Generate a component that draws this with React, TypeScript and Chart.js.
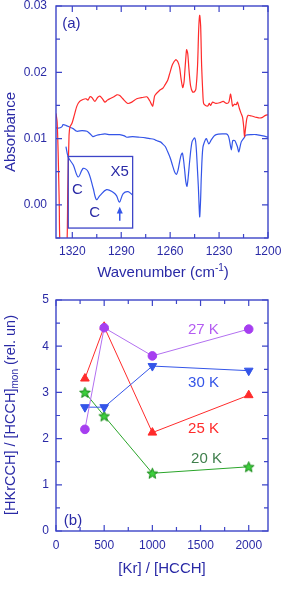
import React, { useEffect, useRef } from 'react';
import { Chart, registerables } from 'chart.js';

Chart.register(...registerables);

// ---------- Panel (a): IR spectra ----------
const RED_WN = [1330, 1329.3, 1328.7, 1328.0, 1327.5, 1325, 1323.3, 1322.8, 1322.0, 1321.4, 1320.2, 1318.8, 1317.2, 1315.5, 1313.5, 1311.5, 1310.4, 1309.2, 1308, 1306.1, 1304.5, 1303.1, 1301.5, 1300, 1298.5, 1297, 1294.5, 1292.7, 1290.9, 1289, 1286, 1283.5, 1280.5, 1277, 1274.3, 1272.5, 1271.5, 1270.7, 1270, 1269.4, 1266.4, 1264.5, 1263.4, 1261.5, 1260.3, 1258.5, 1256.6, 1255.3, 1254.2, 1253.3, 1252.3, 1251.5, 1251.1, 1250.3, 1249.9, 1249.2, 1248.5, 1247.5, 1246.2, 1245, 1244.2, 1243.2, 1242.5, 1241.9, 1241.3, 1240.7, 1240, 1239.5, 1238.3, 1237, 1236, 1235.2, 1234, 1232, 1229.7, 1227.5, 1225.4, 1224, 1223, 1222.4, 1221.7, 1220.5, 1219.5, 1218.7, 1217.5, 1216.5, 1215.6, 1214.9, 1214.4, 1213.8, 1213, 1212.2, 1210, 1207.1, 1205, 1203.4, 1201.5, 1200];
const RED_ABS = [0.0138, 0.0125, 0.008, 0.0, -0.006, -0.009, -0.006, 0.002, 0.0105, 0.0118, 0.0123, 0.0135, 0.0149, 0.0156, 0.0159, 0.016, 0.0158, 0.0163, 0.0162, 0.0156, 0.0162, 0.0164, 0.016, 0.0155, 0.0158, 0.016, 0.0163, 0.0166, 0.0165, 0.016, 0.0153, 0.0155, 0.016, 0.0162, 0.0163, 0.0157, 0.0152, 0.0149, 0.0158, 0.0165, 0.0173, 0.0176, 0.018, 0.0188, 0.0198, 0.0212, 0.0219, 0.0216, 0.0207, 0.019, 0.0177, 0.0185, 0.0198, 0.0225, 0.0234, 0.0228, 0.0205, 0.018, 0.017, 0.0171, 0.0175, 0.021, 0.0265, 0.0286, 0.027, 0.021, 0.017, 0.0153, 0.015, 0.0149, 0.0153, 0.015, 0.0155, 0.0153, 0.0154, 0.0156, 0.0153, 0.0155, 0.0167, 0.016, 0.0149, 0.0152, 0.0151, 0.0155, 0.0145, 0.0138, 0.0132, 0.0118, 0.0103, 0.0115, 0.013, 0.0135, 0.0134, 0.0132, 0.0131, 0.0132, 0.0135, 0.0136];

const BLUE_WN = [1330, 1328, 1326.3, 1325.7, 1324, 1321.4, 1319.5, 1317.2, 1314, 1311, 1309, 1307.4, 1305, 1303.1, 1300, 1297, 1294, 1290.9, 1288, 1286.6, 1283, 1278.6, 1275, 1272.5, 1270, 1268.4, 1266, 1264.6, 1263, 1261.5, 1260, 1258.6, 1257.3, 1256.2, 1255.2, 1254.2, 1253.3, 1252.5, 1251.8, 1251.1, 1250.4, 1249.7, 1249, 1248, 1246.6, 1245, 1244.4, 1243.9, 1243.3, 1242.7, 1241.9, 1241.3, 1240.9, 1239.9, 1237.9, 1236.3, 1234.8, 1233, 1231.8, 1228, 1225.6, 1224.3, 1223.6, 1222.5, 1221.6, 1220.5, 1219.9, 1218.8, 1217.9, 1216.4, 1214.4, 1213.8, 1210, 1207.2, 1203, 1200];
const BLUE_ABS = [0.0116, 0.0116, 0.0118, 0.0121, 0.012, 0.0117, 0.0115, 0.0111, 0.0112, 0.0111, 0.0107, 0.0103, 0.0105, 0.0106, 0.0107, 0.0106, 0.0106, 0.0106, 0.0104, 0.0102, 0.0103, 0.0102, 0.0101, 0.01, 0.0099, 0.0097, 0.0095, 0.0092, 0.0088, 0.008, 0.0071, 0.006, 0.005, 0.0046, 0.0052, 0.0065, 0.0075, 0.0078, 0.0068, 0.0052, 0.0035, 0.0028, 0.004, 0.0067, 0.0095, 0.0101, 0.0096, 0.0082, 0.0055, 0.0027, -0.0018, 0.001, 0.0042, 0.0087, 0.01, 0.0092, 0.0098, 0.0104, 0.0106, 0.0107, 0.0107, 0.0104, 0.0097, 0.0083, 0.0097, 0.0097, 0.0095, 0.0088, 0.008, 0.0095, 0.0102, 0.0105, 0.0106, 0.0106, 0.0104, 0.0102];

// magnified (x5) trace shown in the inset
const INSET_WN = [1323.9, 1322.5, 1319.4, 1316.4, 1313.3, 1310.3, 1307.2, 1305.2, 1303.1, 1299, 1295, 1292.9, 1291.1, 1288.8, 1285.8, 1283.1];
const INSET_ABS = [0.0088, 0.0072, 0.006, 0.0042, 0.0055, 0.005, 0.0025, 0.0008, 0.0014, 0.0023, 0.0019, 0.0014, 0.0004, 0.0017, 0.002, 0.0015];

const A_X_TICKS = [1320, 1290, 1260, 1230, 1200];
const A_X_MINOR = [1305, 1275, 1245, 1215];
const A_Y_TICKS = [0, 0.01, 0.02, 0.03];
const A_Y_MINOR = [-0.005, 0.005, 0.015, 0.025];

// ---------- Panel (b): HKrCCH yield ----------
const KR_RATIO = [300, 500, 1000, 2000];
const Y_27K = [2.2, 4.4, 3.79, 4.37];
const Y_30K = [2.68, 2.68, 3.57, 3.47];
const Y_25K = [3.3, 4.42, 2.13, 2.94];
const Y_20K = [3.0, 2.49, 1.25, 1.39];

const B_X_TICKS = [0, 500, 1000, 1500, 2000];
const B_X_MINOR = [250, 750, 1250, 1750];
const B_Y_TICKS = [0, 1, 2, 3, 4, 5];
const B_Y_MINOR = [0.5, 1.5, 2.5, 3.5, 4.5];

const FONT = '"Liberation Sans", Arial, sans-serif';
const TEXT = '#2a2aa6';
const AXIS = '#3d45c8';
const RED = '#ff2b2b';
const BLUE = '#3455e8';
const PURPLE = '#a63ef0';
const PURPLE_LINE = '#b270f0';
const GREEN = '#2aa52a';

type Part = { t: string; size: number; dy?: number };

function drawRich(ctx: CanvasRenderingContext2D, parts: Part[], cx: number, cy: number, rot: number, color = TEXT) {
  ctx.save();
  ctx.translate(cx, cy);
  ctx.rotate(rot);
  let total = 0;
  const widths = parts.map((p) => {
    ctx.font = `${p.size}px ${FONT}`;
    const w = ctx.measureText(p.t).width;
    total += w;
    return w;
  });
  let x = -total / 2;
  ctx.textBaseline = 'alphabetic';
  ctx.textAlign = 'left';
  ctx.fillStyle = color;
  const base = parts[0].size * 0.36;
  parts.forEach((p, i) => {
    ctx.font = `${p.size}px ${FONT}`;
    ctx.fillText(p.t, x, base + (p.dy || 0));
    x += widths[i];
  });
  ctx.restore();
}

function drawFrame(chart: any, xMaj: number[], xMin: number[], yMaj: number[], yMin: number[]) {
  const { ctx, chartArea, scales } = chart;
  const { left, right, top, bottom } = chartArea;
  ctx.save();
  ctx.strokeStyle = AXIS;
  ctx.lineWidth = 1.4;
  ctx.strokeRect(left, top, right - left, bottom - top);
  ctx.lineWidth = 1.2;
  const major = 6;
  const minor = 4;
  ctx.beginPath();
  const xt = (vals: number[], len: number) => {
    vals.forEach((v) => {
      const p = scales.x.getPixelForValue(v);
      ctx.moveTo(p, bottom);
      ctx.lineTo(p, bottom - len);
      ctx.moveTo(p, top);
      ctx.lineTo(p, top + len);
    });
  };
  const yt = (vals: number[], len: number) => {
    vals.forEach((v) => {
      const p = scales.y.getPixelForValue(v);
      ctx.moveTo(left, p);
      ctx.lineTo(left + len, p);
      ctx.moveTo(right, p);
      ctx.lineTo(right - len, p);
    });
  };
  xt(xMaj, major);
  xt(xMin, minor);
  yt(yMaj, major);
  yt(yMin, minor);
  ctx.stroke();
  ctx.restore();
}

function makeStar(): HTMLCanvasElement {
  const c = document.createElement('canvas');
  const s = 13;
  c.width = s;
  c.height = s;
  const g = c.getContext('2d')!;
  const cx = s / 2;
  const cy = s / 2 + 0.5;
  const R = 5.6;
  const r = 2.4;
  g.beginPath();
  for (let i = 0; i < 10; i++) {
    const rad = i % 2 === 0 ? R : r;
    const a = -Math.PI / 2 + (i * Math.PI) / 5;
    const px = cx + rad * Math.cos(a);
    const py = cy + rad * Math.sin(a);
    if (i === 0) g.moveTo(px, py);
    else g.lineTo(px, py);
  }
  g.closePath();
  g.fillStyle = '#3ccf3c';
  g.fill();
  g.strokeStyle = '#188a18';
  g.lineWidth = 1;
  g.stroke();
  return c;
}

const tickFont = { family: FONT, size: 12 };

export default function App() {
  const refA = useRef<HTMLCanvasElement>(null);
  const refB = useRef<HTMLCanvasElement>(null);

  useEffect(() => {
    document.body.style.margin = '0';
    const pts = (xs: number[], ys: number[]) => xs.map((x, i) => ({ x, y: ys[i] }));

    const chartA = new Chart(refA.current!, {
      type: 'line',
      data: {
        datasets: [
          { label: 'inset x5', data: pts(INSET_WN, INSET_ABS), borderColor: BLUE, borderWidth: 1.2, pointRadius: 0, tension: 0.35 },
          { label: 'red', data: pts(RED_WN, RED_ABS), borderColor: RED, borderWidth: 1.2, pointRadius: 0, tension: 0.25 },
          { label: 'blue', data: pts(BLUE_WN, BLUE_ABS), borderColor: BLUE, borderWidth: 1.2, pointRadius: 0, tension: 0.25 },
        ],
      },
      options: {
        animation: false,
        responsive: false,
        devicePixelRatio: 1,
        layout: { padding: { left: 0, right: 15, top: 6, bottom: 0 } },
        plugins: { legend: { display: false }, tooltip: { enabled: false } },
        scales: {
          x: {
            type: 'linear',
            reverse: true,
            min: 1200,
            max: 1330,
            grid: { display: false, drawTicks: false },
            border: { display: false },
            ticks: { font: tickFont, color: TEXT, padding: 6, maxRotation: 0, autoSkip: false, callback: (v: any) => String(v) },
            afterBuildTicks: (s: any) => { s.ticks = A_X_TICKS.map((v) => ({ value: v })); },
            afterFit: (s: any) => { s.height = 47; s.paddingLeft = 0; s.paddingRight = 0; },
          },
          y: {
            type: 'linear',
            min: -0.005,
            max: 0.03,
            grid: { display: false, drawTicks: false },
            border: { display: false },
            ticks: { font: tickFont, color: TEXT, padding: 9, autoSkip: false, callback: (v: any) => Number(v).toFixed(2) },
            afterBuildTicks: (s: any) => { s.ticks = A_Y_TICKS.map((v) => ({ value: v })); },
            afterFit: (s: any) => { s.width = 56; s.paddingTop = 0; s.paddingBottom = 0; },
          },
        },
      },
      plugins: [
        {
          id: 'frameA',
          afterDatasetsDraw(chart: any) {
            drawFrame(chart, A_X_TICKS, A_X_MINOR, A_Y_TICKS, A_Y_MINOR);
            const { ctx, scales } = chart;
            const X = (v: number) => scales.x.getPixelForValue(v);
            const Y = (v: number) => scales.y.getPixelForValue(v);
            // inset box
            ctx.save();
            ctx.strokeStyle = AXIS;
            ctx.lineWidth = 1.3;
            const bx = X(1322.5), by = Y(0.0073), bx2 = X(1283), by2 = Y(-0.0035);
            ctx.strokeRect(bx, by, bx2 - bx, by2 - by);
            // arrow
            const ax = X(1290.9);
            ctx.strokeStyle = BLUE;
            ctx.fillStyle = BLUE;
            ctx.lineWidth = 1.5;
            ctx.beginPath();
            ctx.moveTo(ax, Y(-0.0024));
            ctx.lineTo(ax, Y(-0.0009));
            ctx.stroke();
            ctx.beginPath();
            ctx.moveTo(ax, Y(-0.0003));
            ctx.lineTo(ax - 3, Y(-0.0013));
            ctx.lineTo(ax + 3, Y(-0.0013));
            ctx.closePath();
            ctx.fill();
            ctx.restore();
            drawRich(ctx, [{ t: 'X5', size: 15 }], X(1290.9), Y(0.0051), 0);
            drawRich(ctx, [{ t: 'C', size: 15 }], X(1316.9), Y(0.0024), 0);
            drawRich(ctx, [{ t: 'C', size: 15 }], X(1306.3), Y(-0.001), 0);
            drawRich(ctx, [{ t: '(a)', size: 15 }], X(1320.6), Y(0.0275), 0);
            // axis titles
            drawRich(ctx, [{ t: 'Absorbance', size: 15 }], 9.5, 132, -Math.PI / 2);
            drawRich(ctx, [{ t: 'Wavenumber (cm', size: 15 }, { t: '-1', size: 10, dy: -6 }, { t: ')', size: 15 }], 163, 272, 0);
          },
        },
      ],
    } as any);

    const star = makeStar();
    const lineDs = (label: string, ys: number[], color: string, lineColor: string, style: any, radius: number, rotation = 0, order = 0) => ({
      label,
      data: pts(KR_RATIO, ys),
      borderColor: lineColor,
      backgroundColor: color,
      pointBorderColor: color,
      borderWidth: 1,
      pointStyle: style,
      pointRadius: radius,
      pointRotation: rotation,
      pointBorderWidth: 1,
      order,
      tension: 0,
    });

    const chartB = new Chart(refB.current!, {
      type: 'line',
      data: {
        datasets: [
          lineDs('27 K', Y_27K, PURPLE, PURPLE_LINE, 'circle', 4.3, 0, 0),
          lineDs('30 K', Y_30K, BLUE, BLUE, 'triangle', 5, 180, 1),
          lineDs('25 K', Y_25K, RED, RED, 'triangle', 5, 0, 2),
          lineDs('20 K', Y_20K, GREEN, GREEN, star, 5, 0, 3),
        ],
      },
      options: {
        animation: false,
        responsive: false,
        devicePixelRatio: 1,
        layout: { padding: { left: 0, right: 15, top: 15, bottom: 0 } },
        plugins: { legend: { display: false }, tooltip: { enabled: false } },
        scales: {
          x: {
            type: 'linear',
            min: 0,
            max: 2200,
            grid: { display: false, drawTicks: false },
            border: { display: false },
            ticks: { font: tickFont, color: TEXT, padding: 7, maxRotation: 0, autoSkip: false, callback: (v: any) => String(v) },
            afterBuildTicks: (s: any) => { s.ticks = B_X_TICKS.map((v) => ({ value: v })); },
            afterFit: (s: any) => { s.height = 60; s.paddingLeft = 0; s.paddingRight = 0; },
          },
          y: {
            type: 'linear',
            min: 0,
            max: 5,
            grid: { display: false, drawTicks: false },
            border: { display: false },
            ticks: { font: tickFont, color: TEXT, padding: 7, autoSkip: false, callback: (v: any) => String(v) },
            afterBuildTicks: (s: any) => { s.ticks = B_Y_TICKS.map((v) => ({ value: v })); },
            afterFit: (s: any) => { s.width = 56; s.paddingTop = 0; s.paddingBottom = 0; },
          },
        },
      },
      plugins: [
        {
          id: 'frameB',
          afterDraw(chart: any) {
            drawFrame(chart, B_X_TICKS, B_X_MINOR, B_Y_TICKS, B_Y_MINOR);
            const { ctx, scales } = chart;
            const X = (v: number) => scales.x.getPixelForValue(v);
            const Y = (v: number) => scales.y.getPixelForValue(v);
            drawRich(ctx, [{ t: '27 K', size: 15 }], X(1529), Y(4.39), 0, '#b45cf2');
            drawRich(ctx, [{ t: '30 K', size: 15 }], X(1531), Y(3.24), 0, BLUE);
            drawRich(ctx, [{ t: '25 K', size: 15 }], X(1531), Y(2.23), 0, RED);
            drawRich(ctx, [{ t: '20 K', size: 15 }], X(1562), Y(1.58), 0, '#3f7f4c');
            drawRich(ctx, [{ t: '(b)', size: 15 }], X(176), Y(0.24), 0);
            drawRich(ctx, [{ t: '[HKrCCH] / [HCCH]', size: 14.5 }, { t: 'mon', size: 10, dy: 3.5 }, { t: ' (rel. un)', size: 14.5 }], 9.5, 130, -Math.PI / 2);
            drawRich(ctx, [{ t: '[Kr] / [HCCH]', size: 15 }], 162, 283, 0);
          },
        },
      ],
    } as any);

    return () => {
      chartA.destroy();
      chartB.destroy();
    };
  }, []);

  return (
    <div style={{ position: 'absolute', left: 0, top: 0, width: 283, height: 591, background: '#fff' }}>
      <canvas ref={refA} width={283} height={285} style={{ position: 'absolute', left: 0, top: 0, width: 283, height: 285 }} />
      <canvas ref={refB} width={283} height={306} style={{ position: 'absolute', left: 0, top: 285, width: 283, height: 306 }} />
    </div>
  );
}
